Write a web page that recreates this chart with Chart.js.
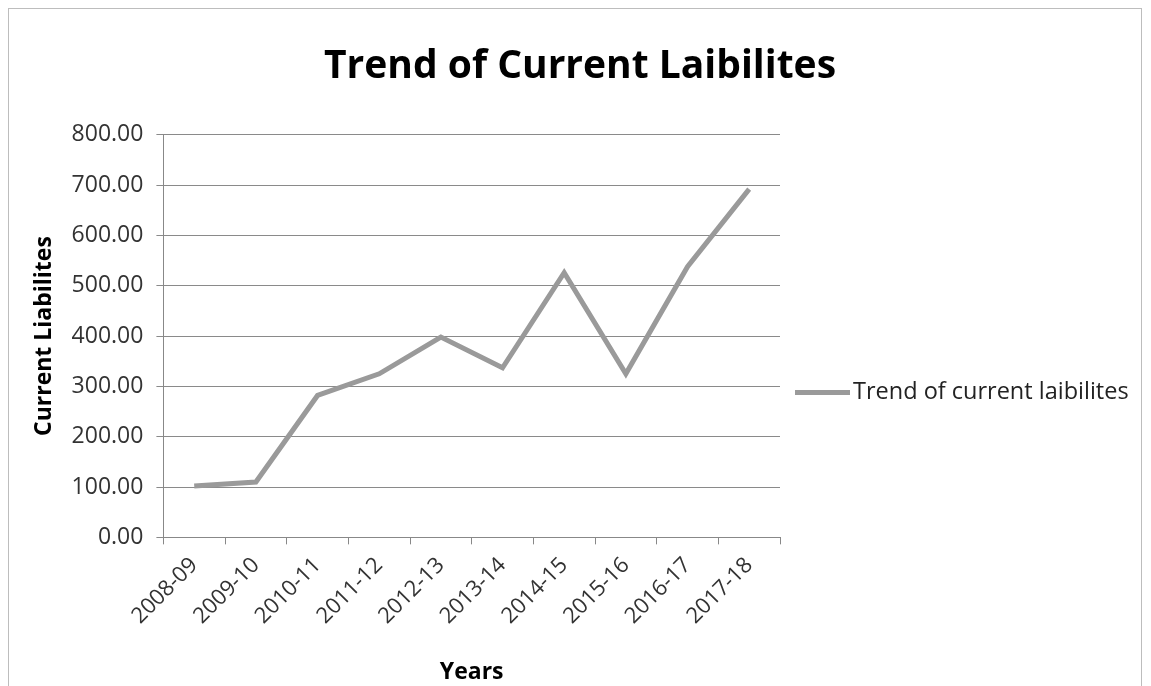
<!DOCTYPE html>
<html>
<head>
<meta charset="utf-8">
<script src="https://cdn.jsdelivr.net/npm/chart.js@4.4.0/dist/chart.umd.min.js"></script>
<style>
  html, body { margin: 0; padding: 0; background: #fff; }
  #wrap { position: absolute; left: 8px; top: 8px; width: 1134px; height: 690px; border: 1px solid #bdbdbd; box-sizing: border-box; }
  canvas { display: block; }
</style>
</head>
<body>
<div id="wrap"><canvas id="grafico"></canvas></div>
<script>
// dados
const anos = ['2008-09', '2009-10', '2010-11', '2011-12', '2012-13', '2013-14', '2014-15', '2015-16', '2016-17', '2017-18'];
const passivos = [102, 110, 282, 325, 398, 337, 526, 325, 538, 692];
const tituloGrafico = 'Trend of Current Laibilites';
const tituloSerie = 'Trend of current laibilites';

const fonte = "'Open Sans', 'Liberation Sans', sans-serif";

// legenda desenhada à direita, no espaço reservado pelo eixo vazio
const legendaDireita = {
  id: 'legendaDireita',
  afterDraw(chart) {
    const { ctx, chartArea } = chart;
    const ds = chart.data.datasets[0];
    const x = chartArea.right + 15;
    const y = chartArea.top + (chartArea.bottom - chartArea.top) * 0.64;
    ctx.save();
    ctx.strokeStyle = ds.borderColor;
    ctx.lineWidth = ds.borderWidth;
    ctx.beginPath();
    ctx.moveTo(x, y);
    ctx.lineTo(x + 55, y);
    ctx.stroke();
    ctx.fillStyle = '#222';
    ctx.font = `23.5px ${fonte}`;
    ctx.textBaseline = 'middle';
    ctx.fillText(ds.label, x + 58, y);
    ctx.restore();
  }
};

const ctx = document.getElementById('grafico').getContext('2d');
new Chart(ctx, {
  type: 'line',
  data: {
    labels: anos,
    datasets: [{
      label: tituloSerie,
      data: passivos,
      borderColor: '#9a9a9a',
      backgroundColor: '#9a9a9a',
      borderWidth: 5,
      pointRadius: 0,
      tension: 0
    }]
  },
  options: {
    responsive: true,
    maintainAspectRatio: false,
    animation: false,
    layout: { padding: { left: 18, right: 8, top: 24, bottom: 7 } },
    plugins: {
      title: {
        display: true,
        text: tituloGrafico,
        color: '#000',
        font: { family: fonte, size: 39, weight: 'bold' },
        padding: { top: 10, bottom: 45 }
      },
      legend: { display: false },
      tooltip: { enabled: false }
    },
    scales: {
      x: {
        offset: true,
        grid: { offset: true, drawOnChartArea: false, drawTicks: true, tickLength: 7, color: '#888' },
        border: { color: '#888' },
        ticks: { color: '#333', font: { family: fonte, size: 22 }, minRotation: 45, maxRotation: 45, padding: 8 },
        title: { display: true, text: 'Years', color: '#000', font: { family: fonte, size: 23, weight: 'bold' }, padding: { top: 21 } }
      },
      y: {
        min: 0,
        max: 800,
        grid: { color: '#8a8a8a', tickLength: 7 },
        border: { color: '#888' },
        ticks: {
          stepSize: 100,
          color: '#333',
          padding: 13,
          font: { family: fonte, size: 23 },
          callback: v => v.toFixed(2)
        },
        title: { display: true, text: 'Current Liabilites', color: '#000', font: { family: fonte, size: 23, weight: 'bold' }, padding: { top: 4, bottom: 0 } }
      },
      espaco: {
        type: 'linear',
        position: 'right',
        display: true,
        grid: { display: false },
        border: { display: false },
        ticks: { display: false },
        afterFit: scale => { scale.width = 353; }
      }
    }
  },
  plugins: [legendaDireita]
});
</script>
</body>
</html>
